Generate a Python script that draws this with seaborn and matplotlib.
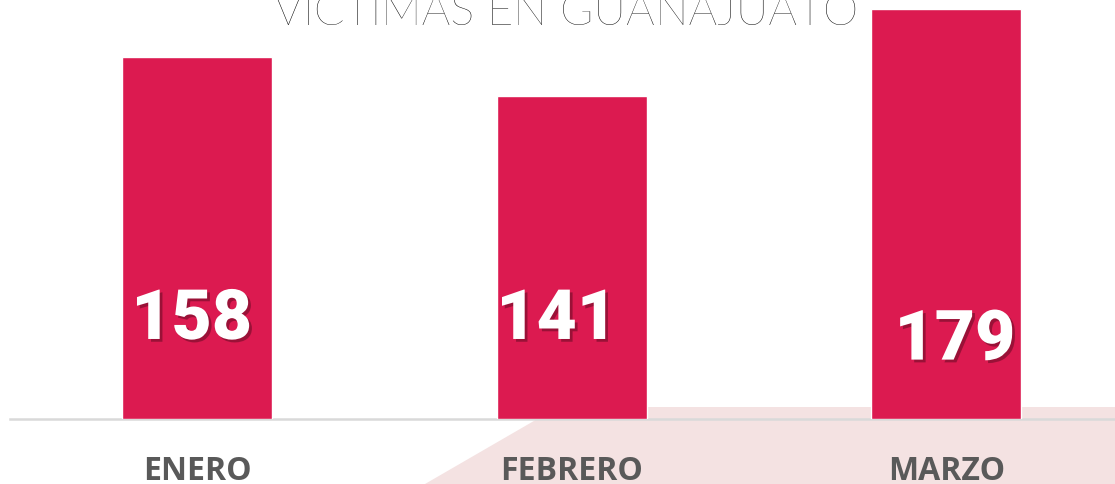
import numpy as np
import pandas as pd
import matplotlib
matplotlib.use("Agg")
import matplotlib.pyplot as plt
import matplotlib.patheffects as pe
from matplotlib.patches import Polygon
import seaborn as sns

# data
meses = ["ENERO", "FEBRERO", "MARZO"]
victimas = [158, 141, 179]
titulo = "VICTIMAS EN GUANAJUATO"

# label placement (layout only)
label_dx = [-0.015, -0.04, 0.023]
label_y = [43, 43, 34]

df = pd.DataFrame({"mes": meses, "victimas": victimas})

sns.set_style("white")
fig = plt.figure(figsize=(11.15, 4.84), dpi=100)
W, H = 1115, 484

# decorative pink background shape
bg = Polygon([(425 / W, 0), (558 / W, 1 - 407 / H), (1, 1 - 407 / H), (1, 0)],
             closed=True, transform=fig.transFigure, facecolor="#F4E2E2",
             edgecolor="none", zorder=0)
fig.patches.append(bg)

ax = fig.add_axes([10 / W, 65 / H, 1105 / W, 419 / H])
ax.set_zorder(2)
ax.set_facecolor("none")
sns.barplot(data=df, x="mes", y="victimas", color="#DC1A50", width=0.4,
            saturation=1, ax=ax, zorder=3)

ax.set_xlim(-0.5, -0.5 + 1105 / 374.5)
ax.set_ylim(0, 419 / (362 / 158))

for i, v in enumerate(victimas):
    ax.text(i + label_dx[i], label_y[i], str(v), ha="center", va="center",
            color="white", fontsize=50, fontweight="heavy", family="Roboto",
            zorder=5,
            path_effects=[pe.withSimplePatchShadow(offset=(2, -2), shadow_rgbFace="#5a0a20", alpha=0.5)])

for s in ["top", "right", "left"]:
    ax.spines[s].set_visible(False)
ax.spines["bottom"].set_color("#D9D9D9")
ax.spines["bottom"].set_linewidth(1.8)
ax.set_yticks([])
ax.set_xlabel("")
ax.set_ylabel("")
ax.tick_params(axis="x", length=0, pad=26)
for lbl in ax.get_xticklabels():
    lbl.set_fontfamily("Open Sans")
    lbl.set_fontweight("bold")
    lbl.set_fontsize(23)
    lbl.set_color("#595959")

fig.text(566 / W, 1 - 25 / H, titulo, ha="center", va="baseline",
         fontsize=32.5, family="Lato", fontweight="light", color="#000000")

fig.savefig("out.png", dpi=100)
